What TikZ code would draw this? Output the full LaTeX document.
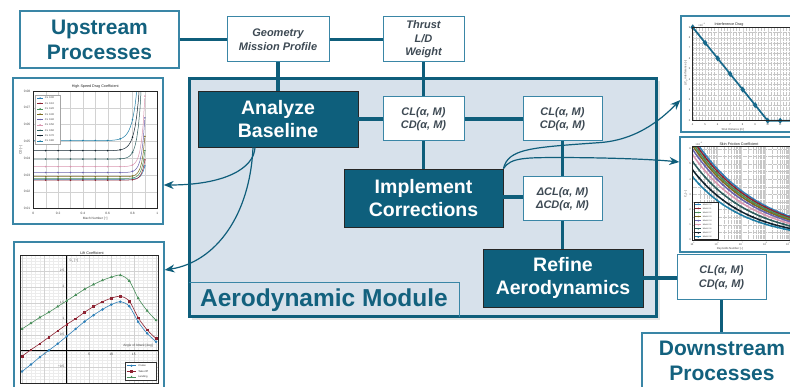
\documentclass[tikz,border=0pt]{standalone}
\usepackage{fontspec}
\setmainfont{Liberation Sans}
\usetikzlibrary{arrows.meta,calc,plotmarks}

\definecolor{boxTeal}{HTML}{0E5F7C}
\definecolor{lineTeal}{HTML}{0F5E7B}
\definecolor{frameTeal}{HTML}{3A86A6}
\definecolor{modFill}{HTML}{D7E1EB}
\definecolor{titleTeal}{HTML}{13617E}
\definecolor{noteGray}{HTML}{3E4A54}
\definecolor{axisText}{HTML}{444444}
\definecolor{cBlue}{HTML}{2F80B8}
\definecolor{cRed}{HTML}{8E2433}
\definecolor{cGreen}{HTML}{4A8F5B}
\definecolor{cOlive}{HTML}{7B6B21}
\definecolor{cPurple}{HTML}{6B64AD}
\definecolor{cPink}{HTML}{D996B0}
\definecolor{cSlate}{HTML}{2E5D5E}
\definecolor{cBlack}{HTML}{10222E}
\definecolor{cTeal}{HTML}{1F7EA6}
\definecolor{cLine}{HTML}{17698B}

\begin{document}
\begin{tikzpicture}[x=1pt,y=-1pt,
  flowbox/.style={fill=boxTeal, draw=black!85, line width=0.9pt, text=white,
    font=\fontsize{19.5}{23}\selectfont\bfseries, align=center, inner sep=0pt},
  databox/.style={fill=white, draw=frameTeal, line width=1pt, text=noteGray,
    font=\fontsize{11}{13.5}\selectfont\bfseries\itshape, align=center, inner sep=0pt},
  procbox/.style={fill=white, draw=frameTeal, line width=1.2pt, text=titleTeal,
    font=\fontsize{21}{25}\selectfont\bfseries, align=center, inner sep=0pt},
  plotbox/.style={fill=white, draw=frameTeal, line width=1.3pt, inner sep=0pt},
  link/.style={draw=lineTeal, line width=3.3pt},
  feed/.style={draw=lineTeal, line width=1.2pt, -{Stealth[length=10pt,width=8pt]}},
  plotlabel/.style={font=\fontsize{3.2}{3.6}\selectfont, text=axisText, inner sep=0.4pt},
  plottitle/.style={font=\fontsize{3.7}{4.2}\selectfont, text=black!85, inner sep=0.4pt},
  legtext/.style={font=\fontsize{2.6}{3}\selectfont, text=black!80, inner sep=0.3pt, anchor=west},
  majorgrid/.style={gray!35, line width=0.3pt},
  minorgrid/.style={gray!15, line width=0.2pt},
  dotgrid/.style={gray!45, line width=0.25pt, densely dotted},
  frameline/.style={black!85, line width=0.6pt}
]
\useasboundingbox (0,0) rectangle (790,387);

% ---------- process boxes and inputs ----------
\node[procbox, minimum width=159, minimum height=57] (upstream) at (99.5,39.5) {Upstream\\Processes};
\node[databox, minimum width=102, minimum height=45] (geometry) at (278,39.5) {Geometry\\Mission Profile};
\node[databox, minimum width=81, minimum height=45] (thrust) at (423.5,39.5) {Thrust\\L/D\\Weight};

% ---------- module container ----------
\fill[black, opacity=0.10] (191.5,81.5) rectangle (659.5,320.5);
\node[draw=lineTeal, line width=3pt, fill=modFill, minimum width=467, minimum height=238, inner sep=0pt] (module) at (422.5,198) {};
\node[inner sep=0pt, minimum width=270, minimum height=34, text=titleTeal,
  font=\fontsize{24.5}{28}\selectfont\bfseries] (modlabel) at (324,300) {Aerodynamic Module};
\draw[frameTeal, line width=1pt] (modlabel.south east) -- (modlabel.north east) -- (modlabel.north west);

% ---------- module steps ----------
\node[flowbox, minimum width=160, minimum height=56] (analyze) at (278,119) {Analyze\\Baseline};
\node[databox, minimum width=81, minimum height=44] (clA) at (423.5,119) {CL(α, M)\\CD(α, M)};
\node[databox, minimum width=79, minimum height=44] (clB) at (562.5,119) {CL(α, M)\\CD(α, M)};
\node[flowbox, minimum width=159, minimum height=58] (implement) at (423.5,198) {Implement\\Corrections};
\node[databox, minimum width=79, minimum height=44] (dcl) at (562.5,199) {ΔCL(α, M)\\ΔCD(α, M)};
\node[flowbox, minimum width=160, minimum height=58] (refine) at (563,278) {Refine\\Aerodynamics};
\node[databox, minimum width=89, minimum height=45] (clC) at (721.5,277.5) {CL(α, M)\\CD(α, M)};
\node[procbox, minimum width=160, minimum height=56] (downstream) at (722,361) {Downstream\\Processes};

% ---------- connectors ----------
\draw[link] (upstream.east) -- (geometry.west);
\draw[link] (geometry.east) -- (thrust.west);
\draw[link] (geometry.south) -- (analyze.north);
\draw[link] (thrust.south) -- (clA.north);
\draw[link] (analyze.east) -- (clA.west);
\draw[link] (clA.east) -- (clB.west);
\draw[link] (clA.south) -- (implement.north);
\draw[link] (clB.south) -- (dcl.north);
\draw[link] (implement.east |- 0,197) -- (dcl.west |- 0,197);
\draw[link] (dcl.south) -- (dcl.south |- refine.north);
\draw[link] (refine.east) -- (refine.east -| clC.west);
\draw[link] (clC.south) -- (clC.south |- downstream.north);

% ---------- plot panels ----------
\node[plotbox, minimum width=150, minimum height=146] (dragplot) at (88,151) {};
\node[plotbox, minimum width=150, minimum height=150] (liftplot) at (89,317) {};
\node[plotbox, minimum width=120, minimum height=116] (interf) at (741,74) {};
\node[plotbox, minimum width=121, minimum height=115] (skin) at (740.5,194.5) {};

% High speed drag coefficient
\begin{scope}[shift={(33.3,225.5)}, x=124pt, y=16.81pt]
  \foreach \g in {1,...,9} \draw[majorgrid] ({\g/10},1) -- ({\g/10},8);
  \foreach \g in {2,...,7} \draw[majorgrid] (0,\g) -- (1,\g);
  \begin{scope}
    \clip (0,1) rectangle (1,8);
    \foreach \col/\fv/\av/\sv in {cBlue/2.75/0.8/0.025, cRed/2.7/1.2/0.025, cGreen/2.8/1.65/0.025,
        cOlive/2.9/2.4/0.025, cPurple/3.15/3.25/0.026, cPink/3.5/4.2/0.027,
        cSlate/3.95/11.2/0.03, cBlack/4.45/12.9/0.036, cTeal/5.05/15.2/0.04} {
      \draw[\col, line width=0.5pt] plot[domain=0:0.9, samples=70] (\x, {\fv+\av*exp(max(-8,(\x-0.9)/\sv))});
      \foreach \k in {1,...,9}
        \fill[\col] ({\k/10}, {\fv+\av*exp(max(-8,(\k/10-0.9)/\sv))}) circle (0.9pt);
    }
  \end{scope}
  \draw[frameline] (0,1) rectangle (1,8);
  \foreach \v in {1,...,8} \node[plotlabel, anchor=east] at (-0.02,\v) {0.0\v};
  \foreach \v/\t in {0/0, 0.2/0.2, 0.4/0.4, 0.6/0.6, 0.8/0.8, 1/1}
    \node[plotlabel, anchor=north] at (\v,0.85) {\t};
  \node[plottitle] at (0.5,8.27) {High Speed Drag Coefficient};
  \node[plotlabel] at (0.5,0.39) {Mach Number [−]};
  \node[plotlabel, rotate=90] at (-0.1,4.49) {CD [−]};
  \draw[fill=white, draw=gray!70, line width=0.3pt] (0.014,7.745) rectangle (0.215,4.866);
  \foreach \col/\t [count=\i from 0] in {cBlue/0.00, cRed/0.10, cGreen/0.20, cOlive/0.30,
      cPurple/0.40, cPink/0.50, cSlate/0.60, cBlack/0.70, cTeal/0.80} {
    \draw[\col, line width=0.5pt] (0.03,{7.745-(0.5+\i)*0.32}) -- (0.08,{7.745-(0.5+\i)*0.32});
    \fill[\col] (0.055,{7.745-(0.5+\i)*0.32}) circle (0.8pt);
    \node[legtext] at (0.09,{7.745-(0.5+\i)*0.32}) {CL \t};
  }
\end{scope}

% Lift coefficient
\begin{scope}[shift={(66.7,350.7)}, x=4.47pt, y=32pt]
  \foreach \g in {-10,...,20} \draw[minorgrid] (\g,-1.02) -- (\g,2.99);
  \foreach \g in {-10,...,29} \draw[minorgrid] (-10.3,{\g/10}) -- (20.6,{\g/10});
  \foreach \g in {-10,-5,...,20} \draw[majorgrid] (\g,-1.02) -- (\g,2.99);
  \foreach \g in {-2,...,5} \draw[majorgrid] (-10.3,{\g/2}) -- (20.6,{\g/2});
  \draw[black, line width=0.6pt] (-10.3,0) -- (20.6,0);
  \draw[black, line width=0.6pt] (0,-1.02) -- (0,2.99);
  \foreach \v in {2.5,2,1.5,1,0.5} \node[plotlabel, anchor=east] at (-0.4,\v) {\v};
  \node[plotlabel, anchor=east] at (-0.4,-0.5) {−0.5};
  \node[plotlabel, anchor=north] at (-5,-0.06) {−5};
  \foreach \v in {5,10,15} \node[plotlabel, anchor=north] at (\v,-0.06) {\v};
  \begin{scope}
    \clip (-10.3,-1.02) rectangle (20.6,2.99);
    \draw[cGreen, line width=0.6pt] plot[smooth, tension=0.5, mark=triangle*, mark size=1.1pt]
      coordinates {(-10,0.68) (-8,0.86) (-6,1.04) (-4,1.2) (-2,1.38) (0,1.56) (2,1.74) (4,1.92)
        (6,2.07) (8,2.2) (10,2.3) (12,2.36) (14,2.18) (16,1.64) (18,1.25) (20,0.95)};
    \draw[cRed, line width=0.6pt] plot[smooth, tension=0.5, mark=square*, mark size=0.85pt]
      coordinates {(-10,-0.17) (-8,0.03) (-6,0.22) (-4,0.42) (-2,0.62) (0,0.82) (2,1.0) (4,1.2)
        (6,1.38) (8,1.53) (10,1.64) (12,1.7) (14,1.55) (16,1.03) (18,0.65) (20,0.38)};
    \draw[cBlue, line width=0.6pt] plot[smooth, tension=0.5, mark=*, mark size=0.95pt]
      coordinates {(-10,-0.65) (-8,-0.43) (-6,-0.2) (-4,0.01) (-2,0.22) (0,0.45) (2,0.68) (4,0.91)
        (6,1.11) (8,1.29) (10,1.44) (12,1.53) (14,1.39) (16,0.9) (18,0.54) (20,0.28)};
  \end{scope}
  \draw[frameline] (-10.3,-1.02) rectangle (20.6,2.99);
  \node[plottitle, anchor=south] at (5.66,2.99) {Lift Coefficient};
  \node[plotlabel, anchor=west] at (0.5,2.81) {C\textsubscript{L} [−]};
  \node[plotlabel, anchor=east] at (19.4,0.15) {Angle of Attack [deg]};
  \draw[fill=white, draw=black!80, line width=0.35pt] (13,-0.37) rectangle (20,-0.92);
  \foreach \col/\mk/\t/\yy in {cBlue/*/Cruise/-0.47, cRed/square*/Take-Off/-0.645, cGreen/triangle*/Landing/-0.82} {
    \draw[\col, line width=0.5pt] plot[mark=\mk, mark size=0.8pt, mark indices={2}]
      coordinates {(13.4,\yy) (14.5,\yy) (15.6,\yy)};
    \node[legtext] at (15.9,\yy) {\t};
  }
\end{scope}

% Interference drag
\begin{scope}[shift={(642.7,120.7)}, x=12.5pt, y=10.38pt]
  \foreach \g in {16,...,51} \draw[dotgrid] ({\g/4},0) -- ({\g/4},9);
  \foreach \g in {1,...,17} \draw[dotgrid] (4,{\g/2}) -- (12.8,{\g/2});
  \foreach \g in {5,...,12} \draw[majorgrid] (\g,0) -- (\g,9);
  \foreach \g in {1,...,8} \draw[majorgrid] (4,\g) -- (12.8,\g);
  \draw[cLine, line width=1.7pt] plot[mark=diamond*, mark size=1.6pt]
    coordinates {(4,9) (5,7.5) (6,6) (7,4.5) (8,3) (9,1.5) (10,0) (11,0) (12,0) (13,0)};
  \draw[frameline] (12.8,0) -- (4,0) -- (4,9) -- (12.8,9);
  \foreach \v in {0,...,9} \node[plotlabel, anchor=east, font=\fontsize{2.6}{3}\selectfont] at (3.85,\v) {\v};
  \foreach \v in {4,...,11} \node[plotlabel, anchor=north, font=\fontsize{2.6}{3}\selectfont] at (\v,-0.2) {\v};
  \node[plottitle, anchor=south] at (6.9,9.05) {Interference Drag};
  \node[plotlabel, anchor=south west, font=\fontsize{2.6}{3}\selectfont] at (4.4,9.05) {×10\textsuperscript{−3}};
  \node[plotlabel, font=\fontsize{2.8}{3}\selectfont] at (7.2,-0.85) {Strut Distance [m]};
  \node[plotlabel, rotate=90, font=\fontsize{2.8}{3}\selectfont] at (3.45,4.6) {ΔC\textsubscript{D} interference [−]};
\end{scope}

% Skin friction coefficient
\begin{scope}[shift={(692.7,240)}, x=24.2pt, y=15.2pt]
  \foreach \d in {0,...,4} \foreach \k in {2,...,9}
    \draw[dotgrid] ({\d+log10(\k)},0) -- ({\d+log10(\k)},6.18);
  \foreach \g in {1,...,12} \draw[dotgrid] (0,{\g/2}) -- (4.6,{\g/2});
  \foreach \d in {1,...,4} \draw[majorgrid] (\d,0) -- (\d,6.18);
  \begin{scope}
    \clip (0,0) rectangle (4.6,6.18);
    \foreach \col/\av/\bv in {cBlue/6.8/0.16, cRed/6.6/0.162, cGreen/6.4/0.165, cOlive/6.2/0.168,
        cPurple/5.95/0.172, cPink/5.6/0.178, cSlate/5.15/0.185, cBlack/4.6/0.195, cTeal/4.15/0.2} {
      \draw[\col, line width=1.5pt] plot[domain=0:4.6, samples=40] (\x, {\av*exp(-2.302585*\bv*\x)});
      \foreach \t in {0,...,18}
        \fill[\col] ({\t/4}, {\av*exp(-2.302585*\bv*\t/4)}) circle (1.1pt);
    }
  \end{scope}
  \draw[frameline] (4.6,0) -- (0,0) -- (0,6.18) -- (4.6,6.18);
  \foreach \v in {0,...,6} \node[plotlabel, anchor=east, font=\fontsize{2.6}{3}\selectfont] at (-0.05,\v) {\v};
  \foreach \d/\e in {0/5, 1/6, 2/7, 3/8}
    \node[plotlabel, anchor=north, font=\fontsize{2.6}{3}\selectfont] at (\d,-0.12) {10\textsuperscript{\e}};
  \node[plotlabel, anchor=north, font=\fontsize{2.6}{3}\selectfont] at (3.95,-0.12) {10\textsuperscript{9}};
  \node[plottitle, anchor=south] at (1.91,6.2) {Skin Friction Coefficient};
  \node[plotlabel, anchor=south west, font=\fontsize{2.6}{3}\selectfont] at (0.1,6.2) {×10\textsuperscript{−3}};
  \node[plotlabel, font=\fontsize{2.8}{3}\selectfont] at (1.54,-0.55) {Reynolds Number [−]};
  \node[plotlabel, rotate=90, font=\fontsize{2.8}{3}\selectfont] at (-0.28,3) {C\textsubscript{f} [−]};
  \draw[fill=white, draw=black!85, line width=0.5pt] (0.054,2.48) rectangle (1.058,0.066);
  \foreach \col/\t [count=\i from 0] in {cBlue/0.0, cRed/0.1, cGreen/0.2, cOlive/0.3,
      cPurple/0.4, cPink/0.5, cSlate/0.6, cBlack/0.7, cTeal/0.8} {
    \draw[\col, line width=1.1pt] (0.1,{2.48-(0.5+\i)*0.268}) -- (0.36,{2.48-(0.5+\i)*0.268});
    \fill[\col] (0.23,{2.48-(0.5+\i)*0.268}) circle (0.9pt);
    \node[legtext, font=\fontsize{2.1}{2.4}\selectfont] at (0.4,{2.48-(0.5+\i)*0.268}) {Mach \t};
  }
\end{scope}

% ---------- result feeds to the plots ----------
\draw[feed] ([xshift=-23pt]analyze.south) .. controls +(-1,21) and +(61,0) .. ([yshift=-34pt]dragplot.east);
\draw[feed] ([xshift=-25pt]analyze.south) .. controls +(-3,68) and +(51,-8) .. ([yshift=47pt]liftplot.east);
\draw[feed] (implement.north east) .. controls +(5,-20) and +(-70,5) .. ++(97,-26)
  .. controls +(40,-3) and +(-15,15) .. ([yshift=-26pt]interf.west);
\draw[feed] (implement.north east) .. controls +(7,-11) and +(-35,0) .. ++(57,-11)
  .. controls +(40,0) and +(-30,-3) .. ([yshift=32.5pt]skin.west);
\end{tikzpicture}
\end{document}
